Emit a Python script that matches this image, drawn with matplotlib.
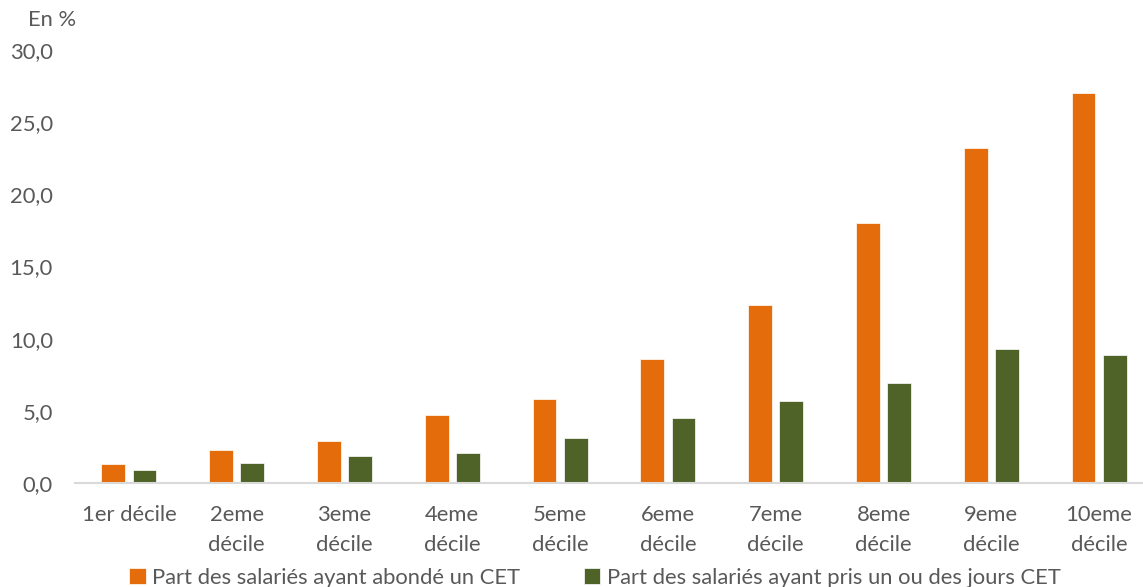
import matplotlib
matplotlib.use("Agg")
import matplotlib.pyplot as plt
import numpy as np

categories = ["1er décile", "2eme\ndécile", "3eme\ndécile", "4eme\ndécile", "5eme\ndécile",
              "6eme\ndécile", "7eme\ndécile", "8eme\ndécile", "9eme\ndécile", "10eme\ndécile"]
abonde = [1.3, 2.3, 2.9, 4.7, 5.8, 8.6, 12.3, 18.0, 23.2, 27.0]
pris = [0.9, 1.4, 1.9, 2.1, 3.1, 4.5, 5.7, 6.9, 9.3, 8.9]
yticks = [0, 5, 10, 15, 20, 25, 30]

label_abonde = "Part des salariés ayant abondé un CET"
label_pris = "Part des salariés ayant pris un ou des jours CET"

plt.rcParams['font.family'] = ['Lato', 'DejaVu Sans']
grey = '#595959'
fs = 15.8

fig = plt.figure(figsize=(11.43, 5.87), dpi=100)
ax = fig.add_axes([75/1143, 104/587, 1078/1143, 433/587])

x = np.arange(len(categories))
w = 0.22
ax.bar(x - 0.145, abonde, w, color='#E46C0A', edgecolor='white', linewidth=0.5, label=label_abonde)
ax.bar(x + 0.145, pris, w, color='#4F6228', edgecolor='white', linewidth=0.5, label=label_pris)

ax.set_xlim(-0.5, len(categories) - 0.5)
ax.set_ylim(0, 30)
ax.set_yticks(yticks)
ax.set_yticklabels([f"{v:.1f}".replace('.', ',') for v in yticks])
ax.set_xticks(x)
ax.set_xticklabels(categories, linespacing=1.6)

for s in ['top', 'right', 'left']:
    ax.spines[s].set_visible(False)
ax.spines['bottom'].set_color('#d9d9d9')
ax.spines['bottom'].set_linewidth(1.5)
ax.tick_params(axis='both', length=0, colors=grey, labelsize=fs)
ax.tick_params(axis='y', pad=16)
ax.tick_params(axis='x', pad=16)

fig.text(28/1143, 1 - 20/587, "En %", color=grey, fontsize=fs, va='center', ha='left')

leg = fig.legend(loc='center', bbox_to_anchor=(595/1143, 1 - 578/587), ncol=2, frameon=False,
                 fontsize=fs, handlelength=0.75, handleheight=0.75, handletextpad=0.3,
                 columnspacing=2.9, borderaxespad=0)
for t in leg.get_texts():
    t.set_color(grey)

fig.savefig("out.png", dpi=100)
